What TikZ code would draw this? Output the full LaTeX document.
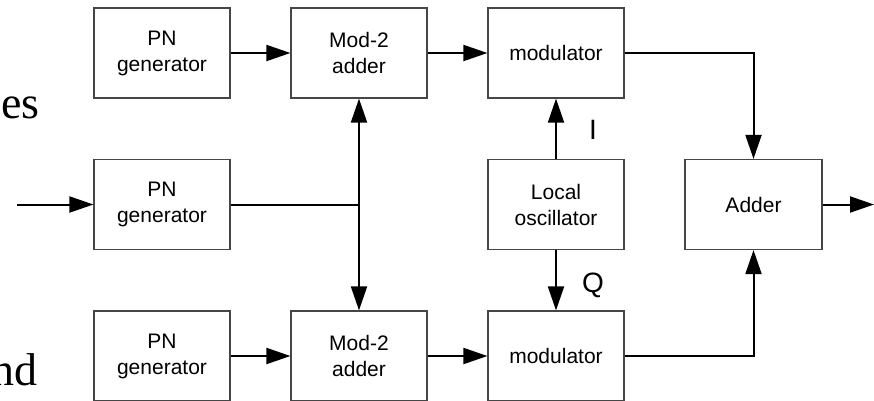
\documentclass[tikz,border=0pt]{standalone}
\usepackage{fontspec}
\setmainfont{Liberation Sans}
\newfontfamily\seriffont{Liberation Serif}
\usetikzlibrary{arrows.meta}
\definecolor{boxline}{RGB}{70,70,70}
\tikzset{
  blockbox/.style={draw=boxline, line width=1.2pt, minimum width=136pt, minimum height=90pt,
    inner sep=0pt, align=center, font=\fontsize{21}{26}\selectfont},
  conn/.style={line width=2pt, -{Triangle[length=24pt,width=16pt]}},
  plainconn/.style={line width=2pt},
  iqlabel/.style={font=\fontsize{28}{32}\selectfont, inner sep=0pt},
  bgtext/.style={font=\seriffont\fontsize{46}{50}\selectfont, inner sep=0pt, anchor=base west}
}
\begin{document}
\begin{tikzpicture}[x=1pt,y=-1pt]
\useasboundingbox (0,0) rectangle (874,400);
\node[bgtext] (es) at (1,118) {es};
\node[bgtext] (nd) at (-9,385) {nd};

\node[blockbox] (pn1) at (162,53) {PN\\generator};
\node[blockbox] (pn2) at (162,204.5) {PN\\generator};
\node[blockbox] (pn3) at (162,356) {PN\\generator};
\node[blockbox] (m2a) at (359,53) {Mod-2\\adder};
\node[blockbox] (m2b) at (359,356) {Mod-2\\adder};
\node[blockbox] (mod1) at (556,53) {modulator};
\node[blockbox] (lo) at (556,204.5) {Local\\oscillator};
\node[blockbox] (mod2) at (556,356) {modulator};
\node[blockbox, minimum width=137pt] (add) at (753.5,204.5) {Adder};

\node[iqlabel] (ilab) at (593,130) {I};
\node[iqlabel] (qlab) at (593,285) {Q};

\coordinate (in) at (17,204.5);
\coordinate (j) at (359,204.5);
\coordinate (out) at (874,204.5);

\draw[conn] (in) -- (pn2.west);
\draw[plainconn] (pn2.east) -- (j);
\draw[conn] (j) -- (m2a.south);
\draw[conn] (j) -- (m2b.north);
\draw[conn] (pn1.east) -- (m2a.west);
\draw[conn] (pn3.east) -- (m2b.west);
\draw[conn] (m2a.east) -- (mod1.west);
\draw[conn] (m2b.east) -- (mod2.west);
\draw[conn] (lo.north) -- (mod1.south);
\draw[conn] (lo.south) -- (mod2.north);
\draw[conn] (mod1.east) -| (add.north);
\draw[conn] (mod2.east) -| (add.south);
\draw[conn] (add.east) -- (out);
\end{tikzpicture}
\end{document}
